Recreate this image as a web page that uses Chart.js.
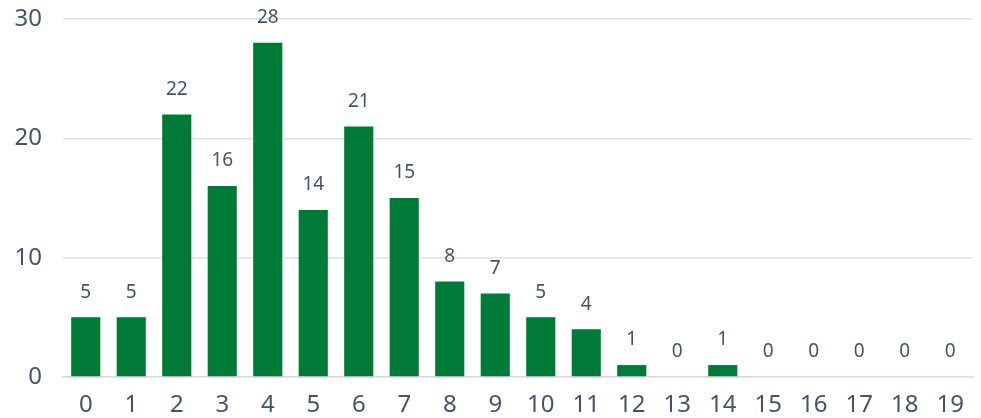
<!DOCTYPE html>
<html>
<head>
<meta charset="utf-8">
<script src="https://cdn.jsdelivr.net/npm/chart.js@4"></script>
<style>
html,body{margin:0;padding:0;background:#fff;}
#wrap{width:981px;height:418px;}
</style>
</head>
<body>
<div id="wrap"><canvas id="c"></canvas></div>
<script>
const categories = ["0","1","2","3","4","5","6","7","8","9","10","11","12","13","14","15","16","17","18","19"];
const counts = [5,5,22,16,28,14,21,15,8,7,5,4,1,0,1,0,0,0,0,0];
const yTicks = [0,10,20,30];

const textColor = '#44546A';
const fontFamily = '"Noto Sans", "Open Sans", sans-serif';

const valueLabels = {
  id: 'valueLabels',
  afterDatasetsDraw(chart) {
    const ctx = chart.ctx;
    const meta = chart.getDatasetMeta(0);
    ctx.save();
    ctx.fillStyle = textColor;
    ctx.font = '19px ' + fontFamily;
    ctx.textAlign = 'center';
    ctx.textBaseline = 'middle';
    meta.data.forEach((bar, i) => {
      ctx.fillText(String(counts[i]), bar.x, bar.y - 25);
    });
    ctx.restore();
  }
};

new Chart(document.getElementById('c'), {
  type: 'bar',
  data: {
    labels: categories,
    datasets: [{
      data: counts,
      backgroundColor: '#007A37',
      barPercentage: 0.64,
      categoryPercentage: 1.0
    }]
  },
  options: {
    responsive: true,
    maintainAspectRatio: false,
    animation: false,
    layout: { padding: { top: 19, right: 8, left: 0, bottom: 0 } },
    plugins: { legend: { display: false }, tooltip: { enabled: false } },
    scales: {
      x: {
        grid: { display: false, drawTicks: false },
        border: { display: true, color: '#D5DBE3', width: 1.5 },
        ticks: { color: textColor, font: { family: fontFamily, size: 24 }, padding: 14, maxRotation: 0, autoSkip: false },
        afterFit(s) { s.height = 41; s.paddingLeft = 0; s.paddingRight = 0; }
      },
      y: {
        min: 0, max: 30,
        afterBuildTicks(s) { s.ticks = yTicks.map(v => ({ value: v })); },
        grid: { color: '#DDE2E8', lineWidth: 1.5, drawTicks: false },
        border: { display: false },
        ticks: { color: textColor, font: { family: fontFamily, size: 24 }, padding: 21 },
        afterFit(s) { s.width = 63; s.paddingTop = 0; s.paddingBottom = 0; }
      }
    }
  },
  plugins: [valueLabels]
});
</script>
</body>
</html>
